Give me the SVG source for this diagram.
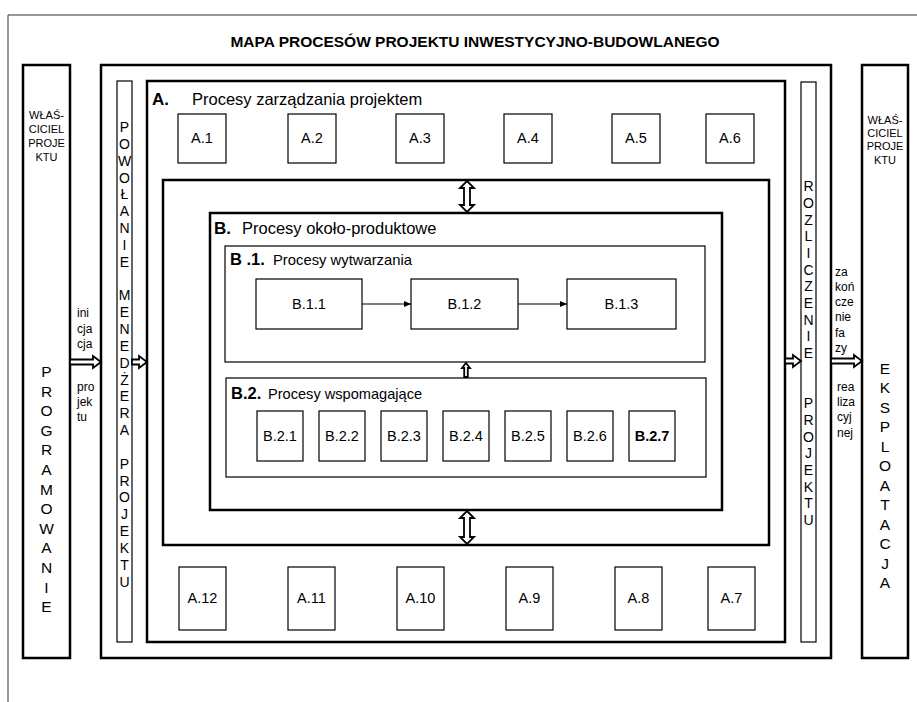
<svg xmlns="http://www.w3.org/2000/svg" width="917" height="702" viewBox="0 0 917 702">
<defs>
<style>
text{font-family:"Liberation Sans",Arial,sans-serif;fill:#000}
.thick{fill:#fff;stroke:#000;stroke-width:2.5}
.thin{fill:#fff;stroke:#000;stroke-width:1.2}
.lbl{font-size:14.5px;text-anchor:middle}
.vt{font-size:14px;text-anchor:middle}
.vb{font-size:15.5px;text-anchor:middle}
.sm{font-size:11px;text-anchor:middle}
.side{font-size:12px}
.blk{fill:#fff;stroke:#000;stroke-width:1.8;stroke-linejoin:miter}
</style>
<marker id="ah" markerWidth="8" markerHeight="8" refX="7" refY="4" orient="auto" markerUnits="userSpaceOnUse">
<path d="M0,1 L7,4 L0,7 Z" fill="#000"/>
</marker>
</defs>
<rect width="917" height="702" fill="#fff"/>
<path d="M8,702 V15 H917" fill="none" stroke="#333" stroke-width="1"/>
<text x="475" y="47" font-size="15.5" font-weight="bold" text-anchor="middle">MAPA PROCESÓW PROJEKTU INWESTYCYJNO-BUDOWLANEGO</text>

<g id="programowanie">
<rect class="thick" x="23" y="65" width="47" height="593"/>
<text class="sm"><tspan x="46.5" y="119">WŁAŚ-</tspan><tspan x="46.5" y="133">CICIEL</tspan><tspan x="46.5" y="147">PROJE</tspan><tspan x="46.5" y="161">KTU</tspan></text>
<text class="vb"><tspan x="46.5" y="377">P</tspan><tspan x="46.5" y="397">R</tspan><tspan x="46.5" y="416">O</tspan><tspan x="46.5" y="436">G</tspan><tspan x="46.5" y="455">R</tspan><tspan x="46.5" y="475">A</tspan><tspan x="46.5" y="495">M</tspan><tspan x="46.5" y="514">O</tspan><tspan x="46.5" y="534">W</tspan><tspan x="46.5" y="553">A</tspan><tspan x="46.5" y="573">N</tspan><tspan x="46.5" y="593">I</tspan><tspan x="46.5" y="612">E</tspan></text>
</g>

<g id="frame">
<rect class="thick" x="101" y="65" width="730" height="593"/>
</g>

<g id="powolanie">
<rect class="thin" x="117" y="81" width="15" height="561"/>
<text class="vt"><tspan x="124.5" y="132">P</tspan><tspan x="124.5" y="149">O</tspan><tspan x="124.5" y="166">W</tspan><tspan x="124.5" y="183">O</tspan><tspan x="124.5" y="199">Ł</tspan><tspan x="124.5" y="216">A</tspan><tspan x="124.5" y="233">N</tspan><tspan x="124.5" y="250">I</tspan><tspan x="124.5" y="267">E</tspan><tspan x="124.5" y="300">M</tspan><tspan x="124.5" y="317">E</tspan><tspan x="124.5" y="334">N</tspan><tspan x="124.5" y="351">E</tspan><tspan x="124.5" y="368">D</tspan><tspan x="124.5" y="385">Ż</tspan><tspan x="124.5" y="401">E</tspan><tspan x="124.5" y="418">R</tspan><tspan x="124.5" y="435">A</tspan><tspan x="124.5" y="469">P</tspan><tspan x="124.5" y="486">R</tspan><tspan x="124.5" y="502">O</tspan><tspan x="124.5" y="519">J</tspan><tspan x="124.5" y="536">E</tspan><tspan x="124.5" y="553">K</tspan><tspan x="124.5" y="570">T</tspan><tspan x="124.5" y="587">U</tspan></text>
</g>

<g id="A">
<rect class="thick" x="147" y="81" width="638" height="561"/>
<text x="152" y="105" font-size="17" font-weight="bold">A.</text>
<text x="192" y="105" font-size="16.5">Procesy zarządzania projektem</text>
</g>
<g id="A1"><rect class="thin" x="178" y="114" width="48" height="49"/><text class="lbl" x="202" y="143">A.1</text></g>
<g id="A2"><rect class="thin" x="288" y="114" width="48" height="49"/><text class="lbl" x="312" y="143">A.2</text></g>
<g id="A3"><rect class="thin" x="396" y="114" width="48" height="49"/><text class="lbl" x="420" y="143">A.3</text></g>
<g id="A4"><rect class="thin" x="504" y="114" width="48" height="49"/><text class="lbl" x="528" y="143">A.4</text></g>
<g id="A5"><rect class="thin" x="612" y="114" width="48" height="49"/><text class="lbl" x="636" y="143">A.5</text></g>
<g id="A6"><rect class="thin" x="706" y="114" width="48" height="49"/><text class="lbl" x="730" y="143">A.6</text></g>

<g id="A12"><rect class="thin" x="179" y="567" width="47" height="63"/><text class="lbl" x="202.5" y="603">A.12</text></g>
<g id="A11"><rect class="thin" x="288" y="567" width="47" height="63"/><text class="lbl" x="311.5" y="603">A.11</text></g>
<g id="A10"><rect class="thin" x="397" y="567" width="47" height="63"/><text class="lbl" x="420.5" y="603">A.10</text></g>
<g id="A9"><rect class="thin" x="506" y="567" width="47" height="63"/><text class="lbl" x="529.5" y="603">A.9</text></g>
<g id="A8"><rect class="thin" x="615" y="567" width="47" height="63"/><text class="lbl" x="638.5" y="603">A.8</text></g>
<g id="A7"><rect class="thin" x="708" y="567" width="47" height="63"/><text class="lbl" x="731.5" y="603">A.7</text></g>

<g id="C">
<rect class="thick" x="163" y="180" width="606" height="365"/>
</g>

<g id="B">
<rect class="thick" x="210" y="213" width="512" height="297"/>
<text x="214" y="234" font-size="17" font-weight="bold">B.</text>
<text x="242" y="234" font-size="16.5">Procesy około-produktowe</text>
</g>

<g id="B1">
<rect class="thin" x="225" y="246" width="480" height="116"/>
<text x="230" y="265" font-size="16.5" font-weight="bold">B .1.</text>
<text x="273" y="265" font-size="14.8">Procesy wytwarzania</text>
</g>
<g id="B11"><rect class="thin" x="256" y="279" width="106" height="50"/><text class="lbl" x="309" y="309">B.1.1</text></g>
<g id="B12"><rect class="thin" x="411" y="279" width="107" height="50"/><text class="lbl" x="464.5" y="309">B.1.2</text></g>
<g id="B13"><rect class="thin" x="567" y="279" width="109" height="50"/><text class="lbl" x="621.5" y="309">B.1.3</text></g>

<g id="B2">
<rect class="thin" x="226" y="378" width="480" height="99"/>
<text x="231" y="399" font-size="16.5" font-weight="bold">B.2.</text>
<text x="268" y="399" font-size="14.6">Procesy wspomagające</text>
</g>
<g id="B21"><rect class="thin" x="257" y="411" width="46" height="50"/><text class="lbl" x="280" y="441">B.2.1</text></g>
<g id="B22"><rect class="thin" x="319" y="411" width="46" height="50"/><text class="lbl" x="342" y="441">B.2.2</text></g>
<g id="B23"><rect class="thin" x="381" y="411" width="46" height="50"/><text class="lbl" x="404" y="441">B.2.3</text></g>
<g id="B24"><rect class="thin" x="443" y="411" width="46" height="50"/><text class="lbl" x="466" y="441">B.2.4</text></g>
<g id="B25"><rect class="thin" x="505" y="411" width="46" height="50"/><text class="lbl" x="528" y="441">B.2.5</text></g>
<g id="B26"><rect class="thin" x="567" y="411" width="46" height="50"/><text class="lbl" x="590" y="441">B.2.6</text></g>
<g id="B27"><rect class="thin" x="629" y="411" width="46" height="50"/><text class="lbl" x="652" y="441" font-weight="bold">B.2.7</text></g>

<g id="rozliczenie">
<rect class="thin" x="801" y="82" width="15" height="560"/>
<text class="vt"><tspan x="808.5" y="191">R</tspan><tspan x="808.5" y="208">O</tspan><tspan x="808.5" y="225">Z</tspan><tspan x="808.5" y="241">L</tspan><tspan x="808.5" y="258">I</tspan><tspan x="808.5" y="275">C</tspan><tspan x="808.5" y="291">Z</tspan><tspan x="808.5" y="308">E</tspan><tspan x="808.5" y="325">N</tspan><tspan x="808.5" y="341">I</tspan><tspan x="808.5" y="358">E</tspan><tspan x="808.5" y="408">P</tspan><tspan x="808.5" y="425">R</tspan><tspan x="808.5" y="442">O</tspan><tspan x="808.5" y="458">J</tspan><tspan x="808.5" y="475">E</tspan><tspan x="808.5" y="492">K</tspan><tspan x="808.5" y="508">T</tspan><tspan x="808.5" y="525">U</tspan></text>
</g>

<g id="eksploatacja">
<rect class="thick" x="862" y="65" width="46" height="593"/>
<text class="sm"><tspan x="885" y="124">WŁAŚ-</tspan><tspan x="885" y="137">CICIEL</tspan><tspan x="885" y="150">PROJE</tspan><tspan x="885" y="164">KTU</tspan></text>
<text class="vb"><tspan x="885" y="374">E</tspan><tspan x="885" y="393">K</tspan><tspan x="885" y="413">S</tspan><tspan x="885" y="432">P</tspan><tspan x="885" y="452">L</tspan><tspan x="885" y="471">O</tspan><tspan x="885" y="491">A</tspan><tspan x="885" y="510">T</tspan><tspan x="885" y="530">A</tspan><tspan x="885" y="549">C</tspan><tspan x="885" y="569">J</tspan><tspan x="885" y="588">A</tspan></text>
</g>

<g id="labels">
<text class="side"><tspan x="77" y="317">ini</tspan><tspan x="77" y="333">cja</tspan><tspan x="77" y="348">cja</tspan><tspan x="77" y="391">pro</tspan><tspan x="77" y="406">jek</tspan><tspan x="77" y="421">tu</tspan></text>
<text class="side"><tspan x="835" y="276">za</tspan><tspan x="835" y="291">koń</tspan><tspan x="835" y="306">cze</tspan><tspan x="835" y="321">nie</tspan><tspan x="835" y="337">fa</tspan><tspan x="835" y="352">zy</tspan><tspan x="837" y="391">rea</tspan><tspan x="837" y="406">liza</tspan><tspan x="837" y="421">cyj</tspan><tspan x="837" y="437">nej</tspan></text>
</g>

<g id="connectors">
<line x1="362" y1="304" x2="411" y2="304" stroke="#000" stroke-width="1.2" marker-end="url(#ah)"/>
<line x1="518" y1="304" x2="567" y2="304" stroke="#000" stroke-width="1.2" marker-end="url(#ah)"/>
<path class="blk" d="M70,359.5 H93 V356 L101,362 L93,368 V364.5 H70 Z"/>
<path class="blk" d="M132,359.5 H139 V356 L147,362 L139,368 V364.5 H132 Z"/>
<path class="blk" d="M785,358.5 H793 V355 L801,361 L793,367 V363.5 H785 Z"/>
<path class="blk" d="M831,358.5 H854 V355 L862,361 L854,367 V363.5 H831 Z"/>
<path class="blk" d="M467,181 L474,188 H470 V205 H474 L467,212 L460,205 H464 V188 H460 Z"/>
<path class="blk" d="M467,511 L474,518 H470 V537 H474 L467,544 L460,537 H464 V518 H460 Z"/>
<path class="blk" d="M466,363 L470,368 H467.8 V377 H464.2 V368 H462 Z" stroke-width="1.3"/>
</g>
</svg>
